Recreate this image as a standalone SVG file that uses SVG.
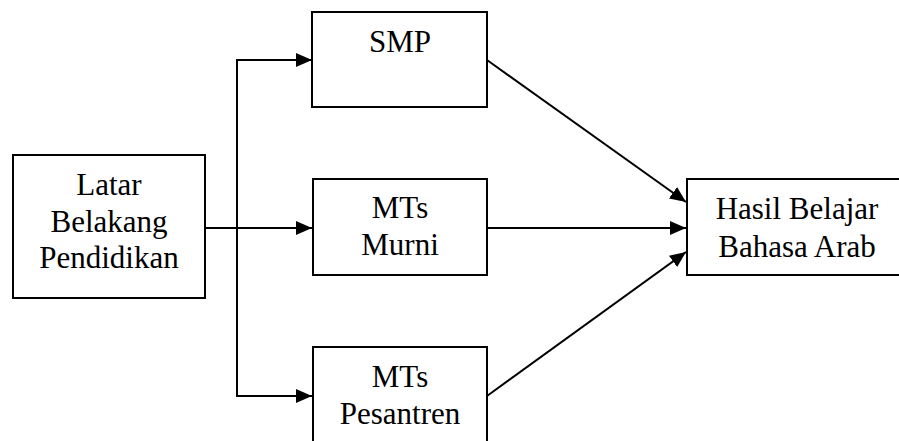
<svg xmlns="http://www.w3.org/2000/svg" width="899" height="441" viewBox="0 0 899 441" font-family="Liberation Serif, DejaVu Serif, serif">
<style>
.box{fill:#fff;stroke:#000;stroke-width:2}
.t{font-size:31px;fill:#000;text-anchor:middle}
.c{stroke:#000;stroke-width:2;fill:none}
</style>
<defs>
<marker id="ah" markerUnits="userSpaceOnUse" markerWidth="16" markerHeight="14" refX="16" refY="7" orient="auto">
<path d="M0,0 L16,7 L0,14 Z" fill="#000"/>
</marker>
</defs>
<rect width="899" height="441" fill="#fff"/>
<g id="connectors">
<line class="c" x1="205" y1="228" x2="312" y2="228" marker-end="url(#ah)"/>
<polyline class="c" points="237,60 237,396"/>
<line class="c" x1="236" y1="60" x2="312" y2="60" marker-end="url(#ah)"/>
<line class="c" x1="236" y1="396" x2="312" y2="396" marker-end="url(#ah)"/>
<line class="c" x1="487" y1="60" x2="686" y2="202" marker-end="url(#ah)"/>
<line class="c" x1="487" y1="228" x2="686" y2="228" marker-end="url(#ah)"/>
<line class="c" x1="487" y1="396" x2="686" y2="252" marker-end="url(#ah)"/>
</g>
<g id="latar">
<rect class="box" x="13" y="155" width="192" height="143"/>
<text class="t" font-family="Liberation Serif" x="109" y="195">Latar</text>
<text class="t" font-family="Liberation Serif" x="109" y="232">Belakang</text>
<text class="t" font-family="Liberation Serif" x="109" y="268">Pendidikan</text>
</g>
<g id="smp">
<rect class="box" x="312" y="12" width="175" height="95"/>
<text class="t" font-family="Liberation Serif" x="400" y="52">SMP</text>
</g>
<g id="murni">
<rect class="box" x="313" y="179" width="174" height="96"/>
<text class="t" font-family="Liberation Serif" x="400" y="218">MTs</text>
<text class="t" font-family="Liberation Serif" x="400" y="255">Murni</text>
</g>
<g id="pesantren">
<rect class="box" x="313" y="347" width="174" height="110"/>
<text class="t" font-family="Liberation Serif" x="400" y="387">MTs</text>
<text class="t" font-family="Liberation Serif" x="400" y="424">Pesantren</text>
</g>
<g id="hasil">
<rect class="box" x="687" y="179" width="220" height="96"/>
<text class="t" font-family="Liberation Serif" x="797" y="219">Hasil Belajar</text>
<text class="t" font-family="Liberation Serif" x="797" y="257">Bahasa Arab</text>
</g>
</svg>
